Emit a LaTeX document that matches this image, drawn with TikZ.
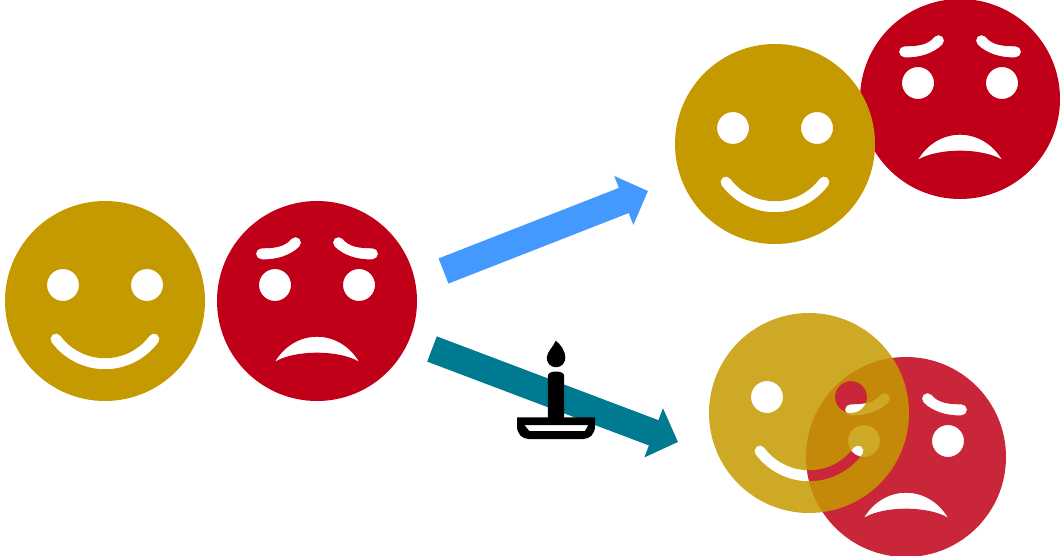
\documentclass[tikz,border=0pt]{standalone}
\usepackage{xcolor}
\usetikzlibrary{arrows.meta}
\definecolor{facegold}{RGB}{196,154,0}
\definecolor{facered}{RGB}{192,0,24}
\definecolor{arrowblue}{RGB}{68,153,255}
\definecolor{arrowteal}{RGB}{0,122,145}
\tikzset{
    goldface/.style={fill=facegold},
    redface/.style={fill=facered},
    faded/.style={fill opacity=0.85},
    bigarrow/.style={line width=27pt, -{Triangle[length=26pt,width=51pt]}},
    pics/happyface/.style={code={
        \fill[#1, even odd rule] (0,0) circle (100pt)
            (-42,16) circle (16pt) (42,16) circle (16pt)
            (-53.5,-41.3) arc (216.5:323.5:66.5pt) arc (-36.5:143.5:5.5pt)
            arc (323.5:216.5:55.5pt) arc (36.5:216.5:5.5pt) -- cycle;
    }},
    pics/sadface/.style={code={
        \fill[#1, even odd rule] (0,0) circle (100pt)
            (-42,16) circle (16pt) (42,16) circle (16pt)
            % brows
            (-55.5,52.7) arc (90:270:5.5pt) .. controls (-40,41) and (-26,46) .. (-17.6,54.5)
            arc (-45:135:5.5pt) .. controls (-32,54) and (-42,52.7) .. (-55.5,52.7) -- cycle
            (55.5,52.7) arc (90:-90:5.5pt) .. controls (40,41) and (26,46) .. (17.6,54.5)
            arc (225:45:5.5pt) .. controls (32,54) and (42,52.7) .. (55.5,52.7) -- cycle
            % mouth
            (-42,-60.7) .. controls (-22,-27.4) and (22,-27.4) .. (42,-60.7)
            .. controls (22,-48.7) and (-22,-48.7) .. (-42,-60.7) -- cycle;
    }},
    pics/candle/.style={code={
        % flame
        \fill (-0.3,49.3) .. controls (4,46) and (9.3,40) .. (9.3,32) arc (0:-180:9.3pt)
            .. controls (-9.3,38) and (-2,44) .. (-0.3,49.3) -- cycle;
        % body
        \fill (-8.2,-28) -- (-8.2,14) .. controls (-8.2,20) and (8.2,20) .. (8.2,14) -- (8.2,-28) -- cycle;
        % tray
        \fill[even odd rule] (-39,-27.4) -- (39,-27.4) -- (39,-36)
            .. controls (39,-44) and (34,-49) .. (27,-49) -- (-27,-49)
            .. controls (-34,-49) and (-39,-44) .. (-39,-36) -- cycle
            (-31.7,-35) -- (32.3,-35) -- (29,-41) -- (-26.7,-41) -- cycle;
    }},
}
\begin{document}
\begin{tikzpicture}[x=1pt, y=1pt]
    \useasboundingbox (0,0) rectangle (1060,-556);

    % starting pair
    \pic at (105,-301) {happyface=goldface};
    \pic at (317,-301) {sadface=redface};

    % upper pair
    \pic at (960,-99) {sadface=redface};
    \pic at (775,-144) {happyface=goldface};

    % lower pair
    \pic at (906,-457) {sadface={redface, faded}};
    \pic at (809,-413) {happyface={goldface, faded}};

    \coordinate (bluestart) at (443.5,-271);
    \coordinate (blueend) at (648,-191);
    \coordinate (tealstart) at (432,-349);
    \coordinate (tealend) at (678,-442);

    \draw[bigarrow, arrowblue] (bluestart) -- (blueend);
    \draw[bigarrow, arrowteal] (tealstart) -- (tealend);

    \pic at (556,-390) {candle};
\end{tikzpicture}
\end{document}
